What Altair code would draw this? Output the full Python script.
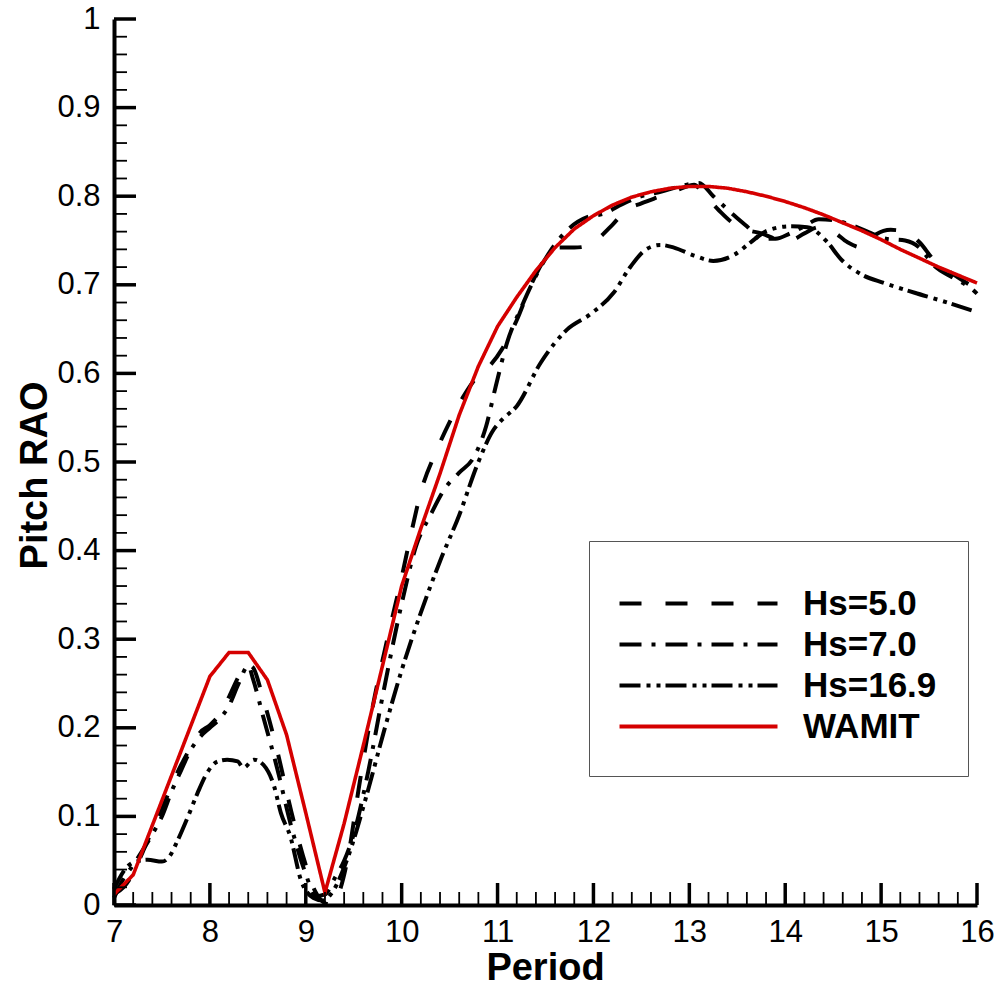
import altair as alt
import pandas as pd

FONT = "Liberation Sans"

# ---------------- data ----------------
period_wamit = [7.0, 7.2, 7.4, 7.6, 7.8, 8.0, 8.2, 8.4, 8.6, 8.8, 9.0, 9.2, 9.4, 9.6, 9.8,
                10.0, 10.2, 10.4, 10.6, 10.8, 11.0, 11.2, 11.4, 11.6, 11.8, 12.0, 12.2,
                12.4, 12.6, 12.8, 13.0, 13.2, 13.4, 13.6, 13.8, 14.0, 14.2, 14.4, 14.6,
                14.8, 15.0, 15.2, 15.4, 15.6, 15.8, 16.0]
rao_wamit = [0.012, 0.034, 0.09, 0.146, 0.202, 0.258, 0.285, 0.285, 0.254, 0.192, 0.104,
             0.014, 0.092, 0.18, 0.27, 0.36, 0.425, 0.487, 0.553, 0.608, 0.653, 0.686,
             0.716, 0.742, 0.763, 0.778, 0.79, 0.799, 0.805, 0.809, 0.811, 0.811, 0.809,
             0.805, 0.8, 0.794, 0.787, 0.779, 0.77, 0.761, 0.751, 0.74, 0.73, 0.72, 0.711,
             0.702]

period_hs5 = [7.0, 7.1, 7.2, 7.3, 7.4, 7.5, 7.6, 7.7, 7.8, 7.9, 8.0, 8.1, 8.2, 8.3, 8.38,
              8.45, 8.55, 8.7, 8.85, 9.0, 9.1, 9.2, 9.28, 9.36, 9.45, 9.55, 9.7, 9.85,
              10.0, 10.1, 10.2, 10.36, 10.5, 10.65, 10.8, 10.93, 11.05, 11.2, 11.35, 11.5,
              11.65, 11.8, 11.95, 12.05, 12.2, 12.35, 12.5, 12.7, 12.9, 13.05, 13.15, 13.3,
              13.45, 13.6, 13.75, 13.9, 14.05, 14.2, 14.35, 14.5, 14.65, 14.8, 14.95, 15.1,
              15.25, 15.4, 15.55, 15.75, 16.0]
rao_hs5 = [0.012, 0.02, 0.036, 0.06, 0.085, 0.108, 0.135, 0.158, 0.178, 0.195, 0.203,
           0.215, 0.235, 0.258, 0.272, 0.268, 0.235, 0.175, 0.105, 0.045, 0.015, 0.002,
           0.0, 0.018, 0.06, 0.13, 0.225, 0.3, 0.37, 0.42, 0.466, 0.512, 0.545, 0.575,
           0.598, 0.61, 0.628, 0.66, 0.7, 0.73, 0.742, 0.742, 0.744, 0.752, 0.768, 0.785,
           0.792, 0.8, 0.808, 0.813, 0.802, 0.785, 0.77, 0.762, 0.758, 0.752, 0.75, 0.758,
           0.765, 0.76, 0.748, 0.742, 0.757, 0.762, 0.76, 0.748, 0.728, 0.712, 0.695]

period_hs7 = [7.0, 7.1, 7.2, 7.3, 7.4, 7.5, 7.6, 7.7, 7.8, 7.9, 8.0, 8.1, 8.2, 8.3, 8.4,
              8.45, 8.55, 8.7, 8.85, 9.0, 9.1, 9.2, 9.3, 9.4, 9.5, 9.65, 9.8, 10.0, 10.15,
              10.3, 10.45, 10.6, 10.75, 10.88, 10.98, 11.1, 11.25, 11.4, 11.55, 11.75,
              11.95, 12.1, 12.3, 12.5, 12.7, 12.9, 13.1, 13.25, 13.45, 13.6, 13.75, 13.9,
              14.05, 14.2, 14.35, 14.5, 14.7, 14.9, 15.05, 15.25, 15.4, 15.55, 15.75,
              15.95, 16.0]
rao_hs7 = [0.008, 0.03, 0.045, 0.062, 0.08, 0.1, 0.128, 0.152, 0.175, 0.19, 0.2, 0.21,
           0.225, 0.25, 0.27, 0.255, 0.215, 0.155, 0.088, 0.035, 0.01, 0.012, 0.03, 0.05,
           0.08, 0.15, 0.235, 0.34, 0.405, 0.44, 0.47, 0.488, 0.505, 0.54, 0.585, 0.635,
           0.675, 0.71, 0.738, 0.764, 0.777, 0.78, 0.791, 0.8, 0.805, 0.811, 0.815, 0.8,
           0.78, 0.766, 0.752, 0.752, 0.758, 0.766, 0.774, 0.773, 0.767, 0.758, 0.752,
           0.75, 0.742, 0.722, 0.708, 0.695, 0.69]

period_hs169 = [7.0, 7.1, 7.2, 7.35, 7.5, 7.58, 7.66, 7.78, 7.87, 7.97, 8.08, 8.18, 8.29,
                8.35, 8.46, 8.56, 8.67, 8.74, 8.84, 8.95, 9.08, 9.18, 9.28, 9.43, 9.64,
                9.81, 10.0, 10.2, 10.4, 10.6, 10.8, 10.95, 11.05, 11.2, 11.45, 11.73,
                11.97, 12.21, 12.39, 12.55, 12.7, 12.84, 13.05, 13.25, 13.47, 13.64, 13.81,
                14.05, 14.23, 14.44, 14.58, 14.79, 15.03, 15.35, 15.63, 16.0]
rao_hs169 = [0.018, 0.038, 0.048, 0.051, 0.049, 0.055, 0.072, 0.102, 0.126, 0.149, 0.162,
             0.164, 0.162, 0.155, 0.164, 0.158, 0.134, 0.104, 0.077, 0.028, 0.008, 0.005,
             0.015, 0.051, 0.126, 0.194, 0.265, 0.33, 0.388, 0.44, 0.5, 0.535, 0.548,
             0.563, 0.612, 0.65, 0.667, 0.691, 0.721, 0.74, 0.745, 0.742, 0.733, 0.727,
             0.734, 0.748, 0.761, 0.766, 0.765, 0.748, 0.729, 0.712, 0.702, 0.691, 0.682,
             0.669]

series_names = ["Hs=5.0", "Hs=7.0", "Hs=16.9", "WAMIT"]
series_colors = ["#000000", "#000000", "#000000", "#d50000"]
series_dashes = [[22, 24], [22, 10, 4, 10], [21, 6, 4, 6, 4, 5], [1, 0]]

x_major = list(range(7, 17))
x_minor = [round(7 + 0.2 * i, 1) for i in range(46) if i % 5 != 0]
y_major = [round(0.1 * i, 1) for i in range(11)]
y_minor = [round(0.02 * i, 2) for i in range(51) if i % 5 != 0]

# ---------------- tables ----------------
rows = []
for name, xs, ys in [("Hs=5.0", period_hs5, rao_hs5),
                     ("Hs=7.0", period_hs7, rao_hs7),
                     ("Hs=16.9", period_hs169, rao_hs169),
                     ("WAMIT", period_wamit, rao_wamit)]:
    for x, y in zip(xs, ys):
        rows.append({"series": name, "period": x, "rao": y})
df = pd.DataFrame(rows)
df_black = df[df.series != "WAMIT"]
df_red = df[df.series == "WAMIT"]

W, H = 863, 886
X0, X1, Y0, Y1 = 7.0, 16.0, 0.0, 1.0
xscale = alt.Scale(domain=[X0, X1], nice=False, zero=False)
yscale = alt.Scale(domain=[Y0, Y1], nice=False, zero=False)


def tick_table(xvals, yvals, length_px):
    """Inward tick segments, each starting on its axis line, length given in pixels."""
    dy = length_px / H * (Y1 - Y0)
    dx = length_px / W * (X1 - X0)
    recs = [{"period": float(v), "period_end": float(v), "rao": Y0, "rao_end": Y0 + dy}
            for v in xvals]
    recs += [{"period": X0, "period_end": X0 + dx, "rao": float(v), "rao_end": float(v)}
             for v in yvals]
    return pd.DataFrame(recs)


major_ticks = tick_table(x_major, y_major, 22)
minor_ticks = tick_table(x_minor, y_minor, 13)

x_axis = alt.Axis(values=x_major, format="d", ticks=False, tickSize=0, grid=False,
                  domain=True, domainColor="black", domainWidth=4, labelFlush=False,
                  labelFont=FONT, labelFontSize=31, labelColor="black", labelPadding=12,
                  title="Period", titleFont=FONT, titleFontSize=38, titleFontWeight="bold",
                  titleColor="black", titleX=431, titleY=74, titleBaseline="alphabetic",
                  titleAlign="center")
y_axis = alt.Axis(values=y_major, format="~g", ticks=False, tickSize=0, grid=False,
                  domain=True, domainColor="black", domainWidth=4, labelFlush=False,
                  labelFont=FONT, labelFontSize=31, labelColor="black", labelPadding=14,
                  title="Pitch RAO", titleFont=FONT, titleFontSize=38,
                  titleFontWeight="bold", titleColor="black", titleAngle=270,
                  titleX=-68, titleY=456, titleBaseline="alphabetic", titleAlign="center")

legend = alt.Legend(orient="none", legendX=475, legendY=522, direction="vertical",
                    title=" ", titleFontSize=11, titlePadding=3,
                    symbolType="M-2.25,0H17.5", symbolSize=256, symbolStrokeWidth=4,
                    labelFont=FONT, labelFontSize=35, labelFontWeight="bold",
                    labelColor="black", labelOffset=148, labelLimit=400, rowPadding=5,
                    padding=31, strokeColor="#555555", fillColor="white")

color_enc = alt.Color("series:N", scale=alt.Scale(domain=series_names, range=series_colors),
                      legend=legend)
dash_enc = alt.StrokeDash("series:N",
                          scale=alt.Scale(domain=series_names, range=series_dashes),
                          legend=legend)

black_lines = alt.Chart(df_black).mark_line(strokeWidth=4, interpolate="monotone",
                                            strokeJoin="round").encode(
    x=alt.X("period:Q", scale=xscale, axis=x_axis),
    y=alt.Y("rao:Q", scale=yscale, axis=y_axis),
    color=color_enc,
    strokeDash=dash_enc,
)
red_line = alt.Chart(df_red).mark_line(strokeWidth=3.6, strokeJoin="miter").encode(
    x=alt.X("period:Q", scale=xscale, axis=x_axis),
    y=alt.Y("rao:Q", scale=yscale, axis=y_axis),
    color=color_enc,
    strokeDash=dash_enc,
)


def tick_layer(data, width):
    return alt.Chart(data).mark_rule(color="black", strokeWidth=width).encode(
        x=alt.X("period:Q", scale=xscale),
        x2=alt.X2("period_end"),
        y=alt.Y("rao:Q", scale=yscale),
        y2=alt.Y2("rao_end"))


major_layer = tick_layer(major_ticks, 3.5)
minor_layer = tick_layer(minor_ticks, 1.8)

chart = alt.layer(black_lines, red_line, major_layer, minor_layer).properties(
    width=W, height=H,
    padding={"left": 114, "top": 19, "right": 25, "bottom": 82},
    autosize=alt.AutoSizeParams(type="none"),
    background="white",
).configure_view(stroke=None)

chart.save("out.html", embed_options={"renderer": "svg", "actions": False})
